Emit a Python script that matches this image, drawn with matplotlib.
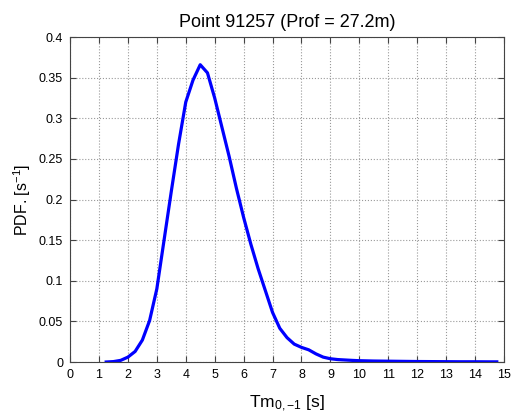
import matplotlib
matplotlib.use('Agg')
import matplotlib.pyplot as plt

plt.rcParams['font.family'] = ['Liberation Sans', 'DejaVu Sans']
plt.rcParams['mathtext.fontset'] = 'custom'
plt.rcParams['mathtext.rm'] = 'Liberation Sans'
plt.rcParams['mathtext.it'] = 'Liberation Sans:italic'

# values
tm = [1.25, 1.5, 1.75, 2.0, 2.25, 2.5, 2.75, 3.0, 3.25, 3.5, 3.75, 4.0, 4.25,
      4.5, 4.75, 5.0, 5.25, 5.5, 5.75, 6.0, 6.25, 6.5, 6.75, 7.0, 7.25, 7.5,
      7.75, 8.0, 8.25, 8.5, 8.75, 9.0, 9.25, 9.5, 9.75, 10.0, 10.5, 11.0,
      11.5, 12.0, 12.5, 13.0, 13.5, 14.0, 14.5, 14.75]
pdf = [0.0, 0.0005, 0.002, 0.006, 0.013, 0.027, 0.051, 0.09, 0.15, 0.21,
       0.268, 0.32, 0.347, 0.366, 0.356, 0.325, 0.289, 0.253, 0.214, 0.178,
       0.145, 0.115, 0.088, 0.061, 0.0415, 0.03, 0.022, 0.018, 0.015, 0.01,
       0.006, 0.004, 0.003, 0.0025, 0.002, 0.0016, 0.0012, 0.001, 0.0008,
       0.0006, 0.0005, 0.0004, 0.0003, 0.0003, 0.0002, 0.0002]
xticks = list(range(0, 16))
yticks = [0, 0.05, 0.1, 0.15, 0.2, 0.25, 0.3, 0.35, 0.4]

fig = plt.figure(figsize=(5.13, 4.16), dpi=100)
ax = fig.add_axes([0.1365, 0.1298, 0.846, 0.781])
ax.plot(tm, pdf, color='#0000ff', lw=2.3)

ax.set_xlim(0, 15)
ax.set_ylim(0, 0.4)
ax.set_xticks(xticks)
ax.set_yticks(yticks)
ax.set_yticklabels(['0', '0.05', '0.1', '0.15', '0.2', '0.25', '0.3', '0.35', '0.4'])
ax.tick_params(direction='in', top=True, right=True, labelsize=9, length=4,
               color='#444444', pad=5)
for s in ax.spines.values():
    s.set_color('#444444')
    s.set_linewidth(0.8)
ax.grid(True, ls=':', color='#999999', lw=0.8)

ax.set_title('Point 91257 (Prof = 27.2m)', fontsize=13, pad=7)
ax.set_xlabel('Tm$_{0,{-}1}$ [s]', fontsize=12.5, labelpad=9)
ax.set_ylabel('PDF. [s$^{-1}$]', fontsize=11.5, labelpad=4)

plt.savefig('out.png', dpi=100)
